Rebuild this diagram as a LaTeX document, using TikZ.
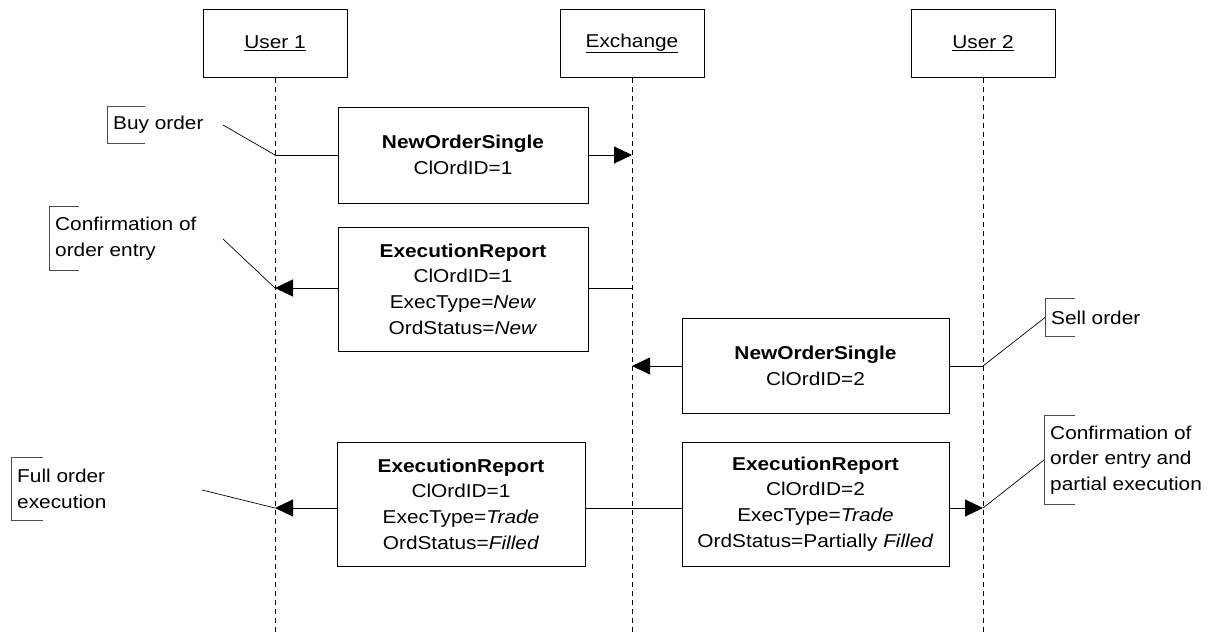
\documentclass[tikz,border=0pt]{standalone}
\usepackage{fontspec}
\setmainfont{Liberation Sans}[FakeStretch=1.12]
\usetikzlibrary{arrows.meta}
\begin{document}
\begin{tikzpicture}[x=1pt,y=-1pt,
  every node/.style={font=\fontsize{18.6pt}{25.7pt}\selectfont},
  head/.style={draw, line width=1pt, minimum width=144pt, minimum height=67pt, inner sep=0pt},
  msg/.style={draw, line width=1pt, inner sep=0pt, align=center},
  life/.style={dash pattern=on 5pt off 4pt, line width=0.9pt},
  conn/.style={line width=1pt},
  arr/.style={conn, -{Triangle[length=18pt,width=17pt]}},
  note/.style={inner xsep=6pt, inner ysep=0pt, align=left, anchor=west},
  bracket/.style={line width=0.9pt, draw=black!70},
  leader/.style={line width=0.7pt}]
\useasboundingbox (0,0) rectangle (1215,634);

% lifeline heads
\node[head] (u1) at (275,43.5) {\underline{User 1}};
\node[head] (ex) at (632,43.5) {\underline{Exchange}};
\node[head] (u2) at (983,43.5) {\underline{User 2}};
\coordinate (u1e) at (275,634);
\coordinate (exe) at (632,634);
\coordinate (u2e) at (983,634);
\draw[life] (u1.south) -- (u1e);
\draw[life] (ex.south) -- (exe);
\draw[life] (u2.south) -- (u2e);

% points on lifelines
\coordinate (u1a) at (275,155);
\coordinate (exa) at (632,155);
\coordinate (exb) at (632,288);
\coordinate (u1b) at (275,288);
\coordinate (u2c) at (983,366);
\coordinate (exc) at (632,366);
\coordinate (u1d) at (275,508);
\coordinate (u2d) at (983,508);

% message boxes
\node[msg, minimum width=250pt, minimum height=96pt] (nos1) at (463,155)
  {\textbf{NewOrderSingle}\\ClOrdID=1};
\node[msg, minimum width=250pt, minimum height=124pt] (er1) at (463,289)
  {\textbf{ExecutionReport}\\ClOrdID=1\\ExecType=\textit{New}\\OrdStatus=\textit{New}};
\node[msg, minimum width=267pt, minimum height=95pt] (nos2) at (815.5,365.5)
  {\textbf{NewOrderSingle}\\ClOrdID=2};
\node[msg, minimum width=248pt, minimum height=124pt] (er2) at (461,504)
  {\textbf{ExecutionReport}\\ClOrdID=1\\ExecType=\textit{Trade}\\OrdStatus=\textit{Filled}};
\node[msg, minimum width=267pt, minimum height=124pt] (er3) at (815.5,504)
  {\textbf{ExecutionReport}\\ClOrdID=2\\ExecType=\textit{Trade}\\OrdStatus=Partially \textit{Filled}};

% connectors
\draw[conn] (u1a) -- (u1a -| nos1.west);
\draw[arr] (exa -| nos1.east) -- (exa);
\draw[conn] (exb) -- (exb -| er1.east);
\draw[arr] (u1b -| er1.west) -- (u1b);
\draw[conn] (u2c) -- (u2c -| nos2.east);
\draw[arr] (exc -| nos2.west) -- (exc);
\draw[conn] (u1d -| er2.east) -- (u1d -| er3.west);
\draw[arr] (u1d -| er2.west) -- (u1d);
\draw[arr] (u2d -| er3.east) -- (u2d);

% notes
\node[note, minimum height=36pt] (n1) at (107,125) {Buy order};
\draw[bracket] ([xshift=38pt]n1.north west) -- (n1.north west) -- (n1.south west) -- ++(38,0);
\node[note, minimum height=63pt] (n2) at (49,238.5) {Confirmation of\\order entry};
\draw[bracket] ([xshift=30pt]n2.north west) -- (n2.north west) -- (n2.south west) -- ++(30,0);
\node[note, minimum height=62pt] (n3) at (11,489) {Full order\\execution};
\draw[bracket] ([xshift=32pt]n3.north west) -- (n3.north west) -- (n3.south west) -- ++(32,0);
\node[note, minimum height=37pt] (n4) at (1045,317.5) {Sell order};
\draw[bracket] ([xshift=30pt]n4.north west) -- (n4.north west) -- (n4.south west) -- ++(30,0);
\node[note, minimum height=88pt] (n5) at (1044,460) {Confirmation of\\order entry and\\partial execution};
\draw[bracket] ([xshift=31pt]n5.north west) -- (n5.north west) -- (n5.south west) -- ++(31,0);

% leaders
\coordinate (l1) at (223,125);
\coordinate (l2) at (223,239);
\coordinate (l3) at (202,490);
\draw[leader] (l1) -- (u1a);
\draw[leader] (l2) -- (u1b);
\draw[leader] (l3) -- (u1d);
\draw[leader] (u2c) -- (n4.west);
\draw[leader] (u2d) -- (n5.west);
\end{tikzpicture}
\end{document}
